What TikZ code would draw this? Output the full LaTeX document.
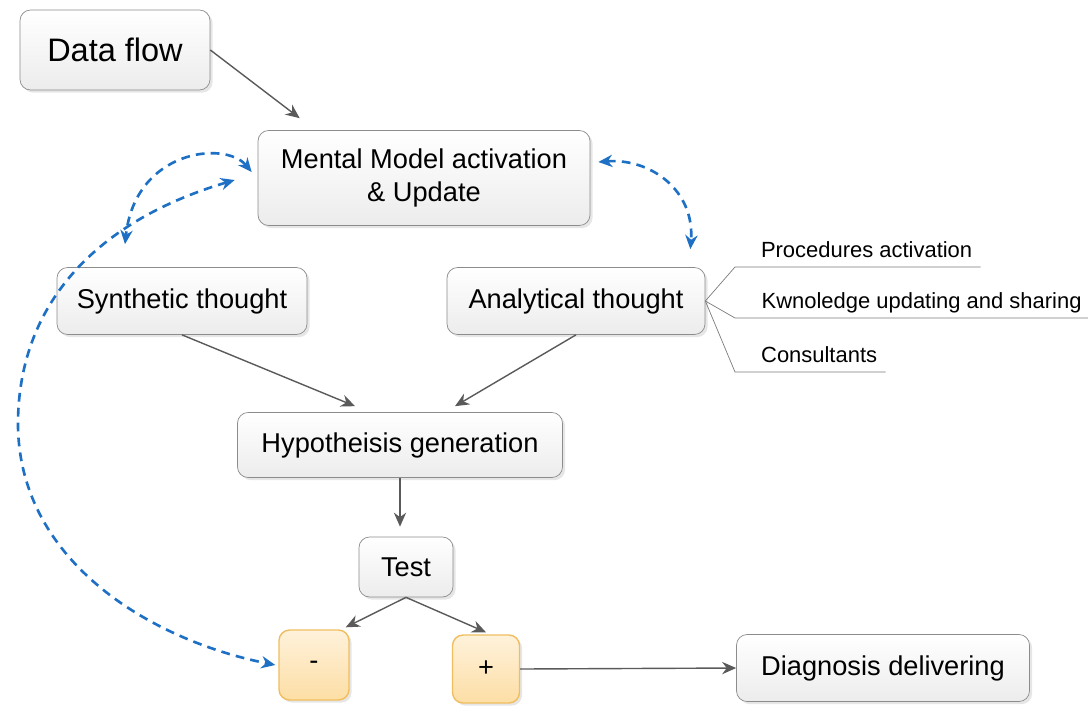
\documentclass[tikz,border=0pt]{standalone}
\usepackage{fontspec}
\setmainfont{Liberation Sans}
\usetikzlibrary{positioning}
\usetikzlibrary{arrows.meta,shadows}

\definecolor{boxline}{RGB}{140,140,140}
\definecolor{boxfill}{RGB}{236,236,236}
\definecolor{orline}{RGB}{240,190,95}
\definecolor{orfill}{RGB}{253,222,165}
\definecolor{dashblue}{RGB}{30,112,196}
\definecolor{arrgray}{RGB}{90,90,90}

\begin{document}
\begin{tikzpicture}[x=0.02cm,y=-0.02cm,
graynode/.style={rectangle, rounded corners=6pt, draw=boxline, top color=white, bottom color=boxfill,
  drop shadow={opacity=0.2, shadow xshift=1.5pt, shadow yshift=-1.5pt},
  font=\fontsize{15.5}{19}\selectfont, align=center, inner sep=2pt},
orangenode/.style={rectangle, rounded corners=6pt, draw=orline, thick, top color=orfill!40, bottom color=orfill,
  drop shadow={opacity=0.2, shadow xshift=1.5pt, shadow yshift=-1.5pt},
  font=\fontsize{15.5}{19}\selectfont, inner sep=2pt},
leafnode/.style={font=\fontsize{12.5}{15}\selectfont, anchor=south west, inner sep=0pt, text depth=5pt},
flow/.style={-{Stealth[length=8pt,width=7pt]}, arrgray, thick},
bidash/.style={{Stealth[length=8pt,width=7pt]}-{Stealth[length=8pt,width=7pt]}, dashblue, line width=1.5pt, dash pattern=on 5pt off 3.5pt},
]
\useasboundingbox (0,0) rectangle (1088,708);

%Nodes
\node[graynode, minimum width=3.8cm,  minimum height=1.6cm,  font=\fontsize{18.5}{22}\selectfont] (datf) at (115,50)  {Data flow};
\node[graynode, minimum width=6.64cm, minimum height=1.9cm]  (ment) at (424,178) {Mental Model activation\\ \& Update};
\node[graynode, minimum width=5cm,    minimum height=1.34cm] (synt) at (182,301) {Synthetic thought};
\node[graynode, minimum width=5.16cm, minimum height=1.34cm] (anal) at (576,301) {Analytical thought};
\node[graynode, minimum width=6.5cm,  minimum height=1.3cm]  (hypo) at (400,445) {Hypotheisis generation};
\node[graynode, minimum width=1.88cm, minimum height=1.2cm]  (test) at (406,567) {Test};
\node[orangenode, minimum width=1.4cm,  minimum height=1.4cm]  (minus) at (314,665) {-};
\node[orangenode, minimum width=1.34cm, minimum height=1.36cm] (plus)  at (486,669) {+};
\node[graynode, minimum width=5.86cm, minimum height=1.34cm] (diag) at (883,668) {Diagnosis delivering};

%Leaves
\node[leafnode, minimum width=4.9cm] (proc) at (735,267) {\hspace{10pt}Procedures activation};
\node[leafnode, minimum width=7.1cm] (know) at (735,318) {\hspace{10pt}Kwnoledge updating and sharing};
\node[leafnode, minimum width=3cm]   (cons) at (735,372) {\hspace{10pt}Consultants};

%Lines
\draw[flow] (datf.east) -- ([xshift=0.84cm,yshift=0.24cm]ment.north west);
\draw[flow] (synt.south) -- ([xshift=-0.9cm,yshift=0.12cm]hypo.north);
\draw[flow] (anal.south) -- ([xshift=1.1cm,yshift=0.12cm]hypo.north);
\draw[flow, shorten >=0.2cm] (hypo.south) -- (hypo.south |- test.north);
\draw[flow] (test.south) -- ([xshift=-0.08cm,yshift=0.04cm]minus.north east);
\draw[flow] (test.south) -- ([yshift=0.04cm]plus.north);
\draw[flow] (plus.east) -- (diag.west);

\draw[arrgray!80] (anal.east) -- (proc.south west) -- (proc.south east);
\draw[arrgray!80] (anal.east) -- (know.south west) -- (know.south east);
\draw[arrgray!80] (anal.east) -- (cons.south west) -- (cons.south east);

%Feedback
\draw[bidash] ([xshift=-0.12cm,yshift=0.12cm]ment.west) .. controls (225,140) and (135,150) .. ([xshift=-1.14cm,yshift=0.46cm]synt.north);
\draw[bidash] ([xshift=-0.46cm,yshift=-0.04cm]ment.west) .. controls (100,220) and (20,300) .. (18,420)
  .. controls (16,560) and (150,640) .. ([xshift=-0.06cm]minus.west);
\draw[bidash] ([xshift=0.16cm,yshift=0.32cm]ment.east) .. controls (650,158) and (695,190) .. ([xshift=-0.3cm,yshift=0.36cm]anal.north east);
\end{tikzpicture}
\end{document}
